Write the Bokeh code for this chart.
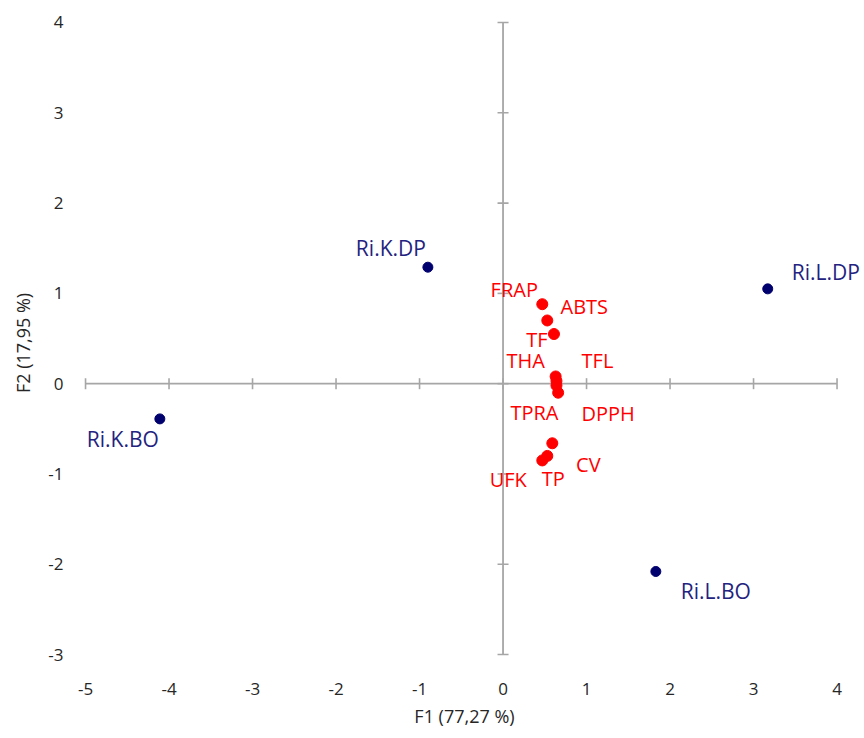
import math
from bokeh.plotting import figure
from bokeh.models import Range1d, FixedTicker, ColumnDataSource
from bokeh.core.properties import value
from bokeh.embed import file_html
from bokeh.resources import INLINE

# ---- data ----
obs_names = ["Ri.K.DP", "Ri.L.DP", "Ri.K.BO", "Ri.L.BO"]
obs_f1 = [-0.90, 3.17, -4.11, 1.83]
obs_f2 = [1.29, 1.05, -0.39, -2.08]

var_names = ["FRAP", "ABTS", "TF", "THA", "TFL", "TPRA", "DPPH", "CV", "TP", "UFK"]
var_f1 = [0.47, 0.53, 0.61, 0.63, 0.64, 0.64, 0.66, 0.59, 0.53, 0.47]
var_f2 = [0.88, 0.70, 0.55, 0.08, 0.03, -0.02, -0.10, -0.66, -0.80, -0.85]

x_ticks = [-5, -4, -3, -2, -1, 0, 1, 2, 3, 4]
y_ticks = [-3, -2, -1, 0, 1, 2, 3, 4]
x_tick_labels = ["-5", "-4", "-3", "-2", "-1", "0", "1", "2", "3", "4"]
y_tick_labels = ["-3", "-2", "-1", "0", "1", "2", "3", "4"]

x_title = "F1 (77,27 %)"
y_title = "F2 (17,95 %)"

# label placement (screen pixels, right / down)
obs_dx = [-37, 58, -37, 60]
obs_dy = [-19, -17, 20, 20]
var_dx = [-28, 37, -17, -30, 41, -22, 50, 36, 6, -34]
var_dy = [-15, -14, 5, -16, -20, 27, 21, 21, 23, 19]

FONT = "Open Sans"
GRAY = "#a6a6a6"
NAVY = "#00006e"
NAVY_TXT = "#23237f"
RED = "#ff0000"

p = figure(width=864, height=738, output_backend="svg", toolbar_location=None,
           x_range=Range1d(-5.204, 4.281), y_range=Range1d(-3.254, 4.155),
           min_border_left=68, min_border_right=4, min_border_top=8, min_border_bottom=61)
p.outline_line_color = None
p.grid.visible = False
p.background_fill_color = "white"
p.border_fill_color = "white"

for ax in (p.xaxis[0], p.yaxis[0]):
    ax.axis_line_color = None
    ax.major_tick_line_color = None
    ax.minor_tick_line_color = None
    ax.major_tick_out = 0
    ax.major_tick_in = 0
    ax.major_label_text_font = FONT
    ax.major_label_text_font_size = "17px"
    ax.major_label_text_color = "#262626"
    ax.axis_label_text_font = FONT
    ax.axis_label_text_font_size = "18px"
    ax.axis_label_text_font_style = "normal"
    ax.axis_label_text_color = "#262626"
    ax.major_label_standoff = 5

p.xaxis.ticker = FixedTicker(ticks=x_ticks)
p.yaxis.ticker = FixedTicker(ticks=y_ticks)
p.xaxis.major_label_overrides = {t: s for t, s in zip(x_ticks, x_tick_labels)}
p.yaxis.major_label_overrides = {t: s for t, s in zip(y_ticks, y_tick_labels)}
p.xaxis.axis_label = x_title
p.yaxis.axis_label = y_title
p.xaxis.axis_label_standoff = 6
p.yaxis.axis_label_standoff = 10

# cross axes
p.segment(x0=[min(x_ticks)], y0=[0], x1=[max(x_ticks)], y1=[0], line_color=GRAY, line_width=1.8)
p.segment(x0=[0], y0=[min(y_ticks)], x1=[0], y1=[max(y_ticks)], line_color=GRAY, line_width=1.8)
p.scatter(x=x_ticks, y=[0] * len(x_ticks), marker="dash", size=11, angle=math.pi / 2,
          line_color=GRAY, line_width=1.6)
p.scatter(x=[0] * len(y_ticks), y=y_ticks, marker="dash", size=11,
          line_color=GRAY, line_width=1.6)

obs_src = ColumnDataSource(dict(x=obs_f1, y=obs_f2, t=obs_names, dx=obs_dx, dy=obs_dy))
var_src = ColumnDataSource(dict(x=var_f1, y=var_f2, t=var_names, dx=var_dx, dy=var_dy))

p.scatter("x", "y", source=obs_src, size=10, fill_color=NAVY, line_color=NAVY)
p.scatter("x", "y", source=var_src, size=11, fill_color=RED, line_color=RED)

p.text("x", "y", text="t", source=obs_src, x_offset="dx", y_offset="dy",
       text_font=value(FONT), text_font_size="21px", text_color=NAVY_TXT,
       text_align="center", text_baseline="middle")
p.text("x", "y", text="t", source=var_src, x_offset="dx", y_offset="dy",
       text_font=value(FONT), text_font_size="20px", text_color=RED,
       text_align="center", text_baseline="middle")

open("out.html", "w").write(file_html(p, INLINE))
